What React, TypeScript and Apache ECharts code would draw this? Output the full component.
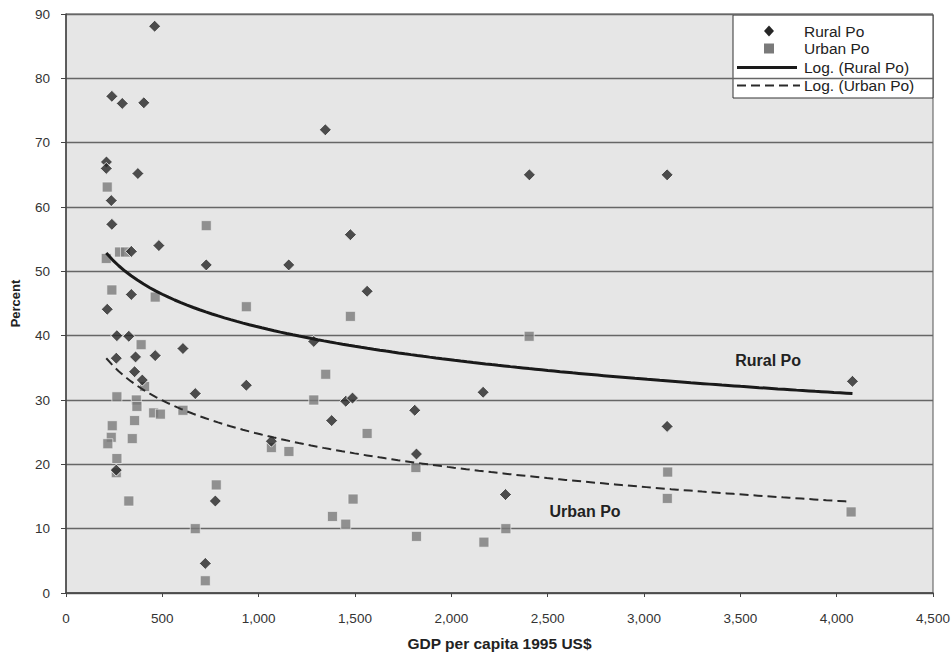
import React, { useEffect, useRef } from "react";
import * as echarts from "echarts";

// GDP per capita (1995 US$) vs rural poverty (%)
const ruralPoints: [number, number][] = [
  [460, 88.1], [238, 77.2], [292, 76.1], [404, 76.2], [1346, 72.0], [210, 67.0], [209, 66.0],
  [373, 65.2], [2405, 65.0], [3120, 65.0], [235, 61.0], [238, 57.3], [1476, 55.7], [482, 54.0],
  [339, 53.1], [728, 51.0], [1156, 51.0], [339, 46.4], [1563, 46.9], [214, 44.1], [264, 40.0],
  [326, 39.9], [607, 38.0], [1286, 39.1], [261, 36.5], [361, 36.7], [463, 36.9], [356, 34.4],
  [396, 33.1], [936, 32.3], [671, 31.0], [2165, 31.2], [1452, 29.8], [1487, 30.3], [1810, 28.4],
  [1379, 26.8], [1066, 23.6], [1819, 21.6], [261, 19.1], [775, 14.3], [2281, 15.3], [723, 4.6],
  [4082, 32.9], [3120, 25.9],
];

// GDP per capita (1995 US$) vs urban poverty (%)
const urbanPoints: [number, number][] = [
  [214, 63.1], [728, 57.1], [278, 53.0], [309, 53.0], [209, 52.0], [238, 47.1], [463, 46.0],
  [936, 44.5], [1476, 43.0], [390, 38.6], [408, 32.1], [1348, 34.0], [264, 30.5], [365, 30.0],
  [368, 29.0], [1286, 30.0], [455, 28.0], [490, 27.8], [607, 28.4], [356, 26.8], [240, 26.0],
  [235, 24.2], [217, 23.2], [344, 24.0], [1066, 22.6], [1157, 22.0], [264, 20.9], [261, 18.7],
  [780, 16.8], [326, 14.3], [1490, 14.6], [1383, 11.9], [1452, 10.7], [671, 10.0], [723, 1.9],
  [2404, 39.9], [1563, 24.8], [1816, 19.5], [2283, 10.0], [1819, 8.8], [2169, 7.9],
  [3123, 18.8], [3121, 14.7], [4075, 12.6],
];

const seriesNames = ["Rural Po", "Urban Po", "Log. (Rural Po)", "Log. (Urban Po)"];
const curveLabels = ["Rural Po", "Urban Po"];
const curveLabelCoords: [number, number][] = [[3644, 36.1], [2694, 12.6]];

const xTicks = { min: 0, max: 4500, interval: 500 };
const yTicks = { min: 0, max: 90, interval: 10 };

// Least-squares logarithmic trendline y = a + b ln(x), as in a spreadsheet's "Log." trendline
function logTrend(pts: [number, number][]): [number, number][] {
  const n = pts.length;
  let sx = 0, sy = 0, sxx = 0, sxy = 0;
  pts.forEach(([x, y]) => {
    const lx = Math.log(x);
    sx += lx; sy += y; sxx += lx * lx; sxy += lx * y;
  });
  const b = (n * sxy - sx * sy) / (n * sxx - sx * sx);
  const a = (sy - b * sx) / n;
  const xs = pts.map((p) => p[0]);
  const lo = Math.min(...xs), hi = Math.max(...xs);
  const out: [number, number][] = [];
  const steps = 120;
  for (let i = 0; i <= steps; i++) {
    const x = lo + ((hi - lo) * i) / steps;
    out.push([x, a + b * Math.log(x)]);
  }
  return out;
}

const FONT = '"Liberation Sans", Arial, Helvetica, sans-serif';
const RURAL_COLOR = "#262626";
const URBAN_COLOR = "#7a7a7a";

function legendGraphic() {
  const boxX = 733, boxY = 15, boxW = 200, boxH = 83;
  const rows = [31, 48.5, 67.5, 85.5];
  const iconCx = 769;
  const textX = 804;
  const textStyle = (i: number) => ({
    type: "text",
    x: textX,
    y: rows[i],
    style: {
      text: seriesNames[i],
      fill: "#222",
      font: `15.5px ${FONT}`,
      textVerticalAlign: "middle",
      verticalAlign: "middle",
    },
  });
  return {
    type: "group",
    z: 100,
    children: [
      {
        type: "rect",
        shape: { x: boxX, y: boxY, width: boxW, height: boxH },
        style: { fill: "#ffffff", stroke: "#333", lineWidth: 1 },
      },
      {
        type: "polygon",
        shape: {
          points: [
            [iconCx, rows[0] - 5.5],
            [iconCx + 5, rows[0]],
            [iconCx, rows[0] + 5.5],
            [iconCx - 5, rows[0]],
          ],
        },
        style: { fill: RURAL_COLOR },
      },
      {
        type: "rect",
        shape: { x: iconCx - 5, y: rows[1] - 5, width: 10, height: 10 },
        style: { fill: URBAN_COLOR },
      },
      {
        type: "line",
        shape: { x1: 737, y1: rows[2], x2: 797, y2: rows[2] },
        style: { stroke: "#1a1a1a", lineWidth: 3 },
      },
      {
        type: "line",
        shape: { x1: 737, y1: rows[3], x2: 800, y2: rows[3] },
        style: { stroke: "#2a2a2a", lineWidth: 2, lineDash: [9, 5] },
      },
      textStyle(0),
      textStyle(1),
      textStyle(2),
      textStyle(3),
    ],
  };
}

export default function App() {
  const ref = useRef<HTMLDivElement>(null);
  useEffect(() => {
    if (!ref.current) return;
    const chart = echarts.init(ref.current, null, { renderer: "svg" });
    const ruralTrend = logTrend(ruralPoints);
    const urbanTrend = logTrend(urbanPoints);
    const labelStyle = {
      show: true,
      fontFamily: FONT,
      fontWeight: "bold" as const,
      fontSize: 16,
      color: "#222",
    };
    chart.setOption({
      animation: false,
      backgroundColor: "#ffffff",
      textStyle: { fontFamily: FONT },
      grid: {
        left: 66,
        right: 18,
        top: 14,
        bottom: 62,
        containLabel: false,
        outerBoundsMode: "none",
        show: true,
        backgroundColor: "#e6e6e6",
        borderColor: "#555",
        borderWidth: 1,
      },
      graphic: [legendGraphic()],
      xAxis: {
        type: "value",
        min: xTicks.min,
        max: xTicks.max,
        interval: xTicks.interval,
        name: "GDP per capita 1995 US$",
        nameLocation: "middle",
        nameGap: 42,
        nameTextStyle: { fontFamily: FONT, fontWeight: "bold", fontSize: 15.5, color: "#222" },
        axisLine: { show: true, lineStyle: { color: "#444", width: 1.5 } },
        axisTick: { show: true, inside: false, length: 4, lineStyle: { color: "#444" } },
        axisLabel: {
          margin: 18,
          fontFamily: FONT,
          fontSize: 13.5,
          color: "#333",
          formatter: (v: number) => v.toLocaleString("en-US"),
        },
        splitLine: { show: false },
      },
      yAxis: {
        type: "value",
        min: yTicks.min,
        max: yTicks.max,
        interval: yTicks.interval,
        name: "Percent",
        nameLocation: "middle",
        nameGap: 44,
        nameTextStyle: { fontFamily: FONT, fontWeight: "bold", fontSize: 13, color: "#222" },
        axisLine: { show: true, lineStyle: { color: "#444", width: 1.5 } },
        axisTick: { show: true, inside: false, length: 5, lineStyle: { color: "#444" } },
        axisLabel: { margin: 16, fontFamily: FONT, fontSize: 13.5, color: "#333" },
        splitLine: { show: true, lineStyle: { color: "#666", width: 1.3 } },
      },
      series: [
        {
          name: seriesNames[0],
          type: "scatter",
          symbol: "diamond",
          symbolSize: 12,
          data: ruralPoints,
          itemStyle: { color: RURAL_COLOR, borderColor: "#ffffff", borderWidth: 1 },
          z: 4,
        },
        {
          name: seriesNames[1],
          type: "scatter",
          symbol: "rect",
          symbolSize: 10,
          data: urbanPoints,
          itemStyle: { color: URBAN_COLOR, borderColor: "#f4f4f4", borderWidth: 0.8 },
          z: 3,
        },
        {
          name: seriesNames[2],
          type: "line",
          data: ruralTrend,
          symbol: "none",
          showSymbol: false,
          smooth: false,
          lineStyle: { color: "#1a1a1a", width: 3, type: "solid" },
          z: 5,
          markPoint: {
            symbol: "circle",
            symbolSize: 0,
            data: [{ coord: curveLabelCoords[0], value: curveLabels[0] }],
            label: { ...labelStyle, formatter: curveLabels[0], position: "inside" },
          },
        },
        {
          name: seriesNames[3],
          type: "line",
          data: urbanTrend,
          symbol: "none",
          showSymbol: false,
          smooth: false,
          lineStyle: { color: "#2a2a2a", width: 2, type: [9, 5] },
          z: 5,
          markPoint: {
            symbol: "circle",
            symbolSize: 0,
            data: [{ coord: curveLabelCoords[1], value: curveLabels[1] }],
            label: { ...labelStyle, formatter: curveLabels[1], position: "inside" },
          },
        },
      ],
    });
    return () => chart.dispose();
  }, []);
  return <div ref={ref} style={{ width: 951, height: 655, position: "absolute", left: 0, top: 0 }} />;
}
